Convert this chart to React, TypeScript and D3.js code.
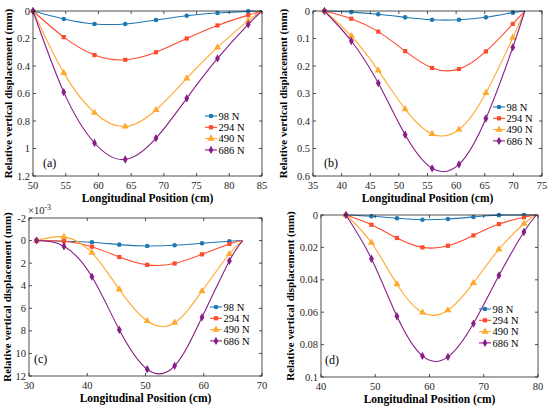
import React from 'react';
import * as d3 from 'd3';

// loads and series names
const loads = ['98 N', '294 N', '490 N', '686 N'];
const colors = ['#1f78b4', '#ff4a2c', '#ffa82e', '#861d88'];
const markers = ['circle', 'square', 'triangle', 'diamond'];

// (a)
const xA = [50, 54.7, 59.4, 64.1, 68.8, 73.5, 78.2, 82.9, 85];
const a98 = [0, 0.058, 0.094, 0.094, 0.065, 0.034, 0.015, 0.003, 0];
const a294 = [0, 0.19, 0.32, 0.355, 0.30, 0.20, 0.105, 0.03, 0];
const a490 = [0, 0.45, 0.74, 0.84, 0.72, 0.49, 0.265, 0.07, 0];
const a686 = [0, 0.59, 0.96, 1.08, 0.925, 0.635, 0.345, 0.097, 0];

// (b)
const xB = [37, 41.7, 46.4, 51.1, 55.8, 60.5, 65.2, 69.9, 72];
const b98 = [0, 0.004, 0.012, 0.023, 0.032, 0.032, 0.023, 0.006, 0];
const b294 = [0, 0.028, 0.075, 0.146, 0.207, 0.211, 0.147, 0.047, 0];
const b490 = [0, 0.091, 0.216, 0.357, 0.447, 0.431, 0.298, 0.097, 0];
const b686 = [0, 0.109, 0.262, 0.45, 0.572, 0.558, 0.391, 0.132, 0];

// (c)  values in 1e-3 mm
const xC = [31.3, 36.0, 40.8, 45.5, 50.3, 55.0, 59.7, 64.4, 66.7];
const c98 = [0, 0.06, 0.15, 0.36, 0.48, 0.42, 0.24, 0.06, 0];
const c294 = [0, 0.06, 0.54, 1.46, 2.15, 2.03, 1.22, 0.3, 0];
const c490 = [0, -0.33, 1.07, 4.33, 7.13, 7.28, 4.48, 1.19, 0];
const c686 = [0, 0.5, 3.2, 7.9, 11.4, 11.1, 6.8, 1.8, 0];

// (d)
const xD = [44.6, 49.3, 54.0, 58.7, 63.4, 68.1, 72.8, 77.4, 79.7];
const d98 = [0, 0.0008, 0.002, 0.0029, 0.0025, 0.0012, 0.0001, 0, 0];
const d294 = [0, 0.006, 0.0142, 0.02, 0.019, 0.0126, 0.0056, 0.0014, 0];
const d490 = [0, 0.0171, 0.0427, 0.0602, 0.0588, 0.0419, 0.0212, 0.0054, 0];
const d686 = [0, 0.027, 0.0625, 0.087, 0.0876, 0.067, 0.0373, 0.0105, 0];

const xTicksA = [50, 55, 60, 65, 70, 75, 80, 85];
const yTicksA = [0, 0.2, 0.4, 0.6, 0.8, 1, 1.2];
const xTicksB = [35, 40, 45, 50, 55, 60, 65, 70, 75];
const yTicksB = [0, 0.1, 0.2, 0.3, 0.4, 0.5, 0.6];
const xTicksC = [30, 40, 50, 60, 70];
const yTicksC = [-2, 0, 2, 4, 6, 8, 10, 12];
const xTicksD = [40, 50, 60, 70, 80];
const yTicksD = [0, 0.02, 0.04, 0.06, 0.08, 0.1];

const FONT = "'Liberation Serif', 'DejaVu Serif', serif";
const AXIS = '#262626';

interface PanelProps {
  box: { left: number; right: number; top: number; bottom: number };
  xs: number[];
  series: number[][];
  xTicks: number[];
  yTicks: number[];
  legend: { x: number; y: number };
  tag: string;
  tagPos: { x: number; y: number };
  yLabelX: number;
  exponent?: boolean;
}

const Marker = ({ kind, x, y, color }: { kind: string; x: number; y: number; color: string }) => {
  if (kind === 'circle') return <circle cx={x} cy={y} r={2.3} fill={color} />;
  if (kind === 'square') return <rect x={x - 2.1} y={y - 2.1} width={4.2} height={4.2} fill={color} />;
  if (kind === 'triangle') {
    const sym = d3.symbol(d3.symbolTriangle, 22)();
    return <path d={sym || ''} transform={`translate(${x},${y})`} fill={color} />;
  }
  const sym = d3.symbol(d3.symbolDiamond, 20)();
  return <path d={sym || ''} transform={`translate(${x},${y})`} fill={color} />;
};

const Panel = ({ box, xs, series, xTicks, yTicks, legend, tag, tagPos, yLabelX, exponent }: PanelProps) => {
  const x = d3.scaleLinear().domain([xTicks[0], xTicks[xTicks.length - 1]]).range([box.left, box.right]);
  const y = d3.scaleLinear().domain([yTicks[0], yTicks[yTicks.length - 1]]).range([box.top, box.bottom]);
  const line = d3.line<number>()
    .x((_, i) => x(xs[i]))
    .y(d => y(d))
    .curve(d3.curveNatural);
  const tl = 3;
  const midY = (box.top + box.bottom) / 2;
  const midX = (box.left + box.right) / 2;

  return (
    <g style={{ fontFamily: FONT }}>
      {series.map((s, k) => (
        <g key={k}>
          <path d={line(s) || ''} fill="none" stroke={colors[k]} strokeWidth={1.1} />
          {s.slice(0, s.length - 1).map((v, i) => (
            <Marker key={i} kind={markers[k]} x={x(xs[i])} y={y(v)} color={colors[k]} />
          ))}
        </g>
      ))}
      {/* box and ticks */}
      <rect x={box.left} y={box.top} width={box.right - box.left} height={box.bottom - box.top}
        fill="none" stroke={AXIS} strokeWidth={0.8} />
      {xTicks.map(t => (
        <g key={`x${t}`}>
          <line x1={x(t)} x2={x(t)} y1={box.bottom} y2={box.bottom - tl} stroke={AXIS} strokeWidth={0.8} />
          <line x1={x(t)} x2={x(t)} y1={box.top} y2={box.top + tl} stroke={AXIS} strokeWidth={0.8} />
          <text x={x(t)} y={box.bottom + 12.5} textAnchor="middle" fontSize={10.5} fill={AXIS}>{t}</text>
        </g>
      ))}
      {yTicks.map(t => (
        <g key={`y${t}`}>
          <line x1={box.left} x2={box.left + tl} y1={y(t)} y2={y(t)} stroke={AXIS} strokeWidth={0.8} />
          <line x1={box.right} x2={box.right - tl} y1={y(t)} y2={y(t)} stroke={AXIS} strokeWidth={0.8} />
          <text x={box.left - 3} y={y(t) + 3.6} textAnchor="end" fontSize={10.5} fill={AXIS}>{t}</text>
        </g>
      ))}
      {exponent && (
        <text x={box.left - 1} y={box.top - 4} fontSize={10.5} fill={AXIS}>
          ×10<tspan dy={-4} fontSize={8}>-3</tspan>
        </text>
      )}
      <text x={midX} y={box.bottom + 26} textAnchor="middle" fontSize={11.5} fontWeight="bold" fill="#000">
        Longitudinal Position (cm)
      </text>
      <text transform={`translate(${yLabelX},${midY}) rotate(-90)`} textAnchor="middle" dy={4}
        fontSize={11} fontWeight="bold" fill="#000">
        Relative vertical displacement (mm)
      </text>
      <text x={tagPos.x} y={tagPos.y} fontSize={12} fill="#000">{tag}</text>
      {loads.map((name, k) => {
        const ly = legend.y + k * 11.3;
        return (
          <g key={name}>
            <line x1={legend.x} x2={legend.x + 12} y1={ly} y2={ly} stroke={colors[k]} strokeWidth={1.1} />
            <Marker kind={markers[k]} x={legend.x + 6} y={ly} color={colors[k]} />
            <text x={legend.x + 13.5} y={ly + 3.6} fontSize={10.5} fill="#000">{name}</text>
          </g>
        );
      })}
    </g>
  );
};

export default function App() {
  return (
    <svg width={550} height={409} style={{ position: 'absolute', left: 0, top: 0, background: '#fff' }}>
      <rect width={550} height={409} fill="#fff" />
      <Panel box={{ left: 33, right: 262, top: 11, bottom: 176 }} xs={xA} series={[a98, a294, a490, a686]}
        xTicks={xTicksA} yTicks={yTicksA} legend={{ x: 205, y: 116 }} tag="(a)" tagPos={{ x: 43, y: 167 }} yLabelX={8} />
      <Panel box={{ left: 313, right: 542, top: 11, bottom: 176 }} xs={xB} series={[b98, b294, b490, b686]}
        xTicks={xTicksB} yTicks={yTicksB} legend={{ x: 493, y: 107 }} tag="(b)" tagPos={{ x: 324, y: 167 }} yLabelX={283} />
      <Panel box={{ left: 29, right: 262, top: 218, bottom: 376 }} xs={xC} series={[c98, c294, c490, c686]}
        xTicks={xTicksC} yTicks={yTicksC} legend={{ x: 210, y: 307 }} tag="(c)" tagPos={{ x: 34, y: 363 }} yLabelX={7}
        exponent />
      <Panel box={{ left: 321, right: 538, top: 215, bottom: 377 }} xs={xD} series={[d98, d294, d490, d686]}
        xTicks={xTicksD} yTicks={yTicksD} legend={{ x: 479, y: 309 }} tag="(d)" tagPos={{ x: 325, y: 364 }} yLabelX={290} />
    </svg>
  );
}
